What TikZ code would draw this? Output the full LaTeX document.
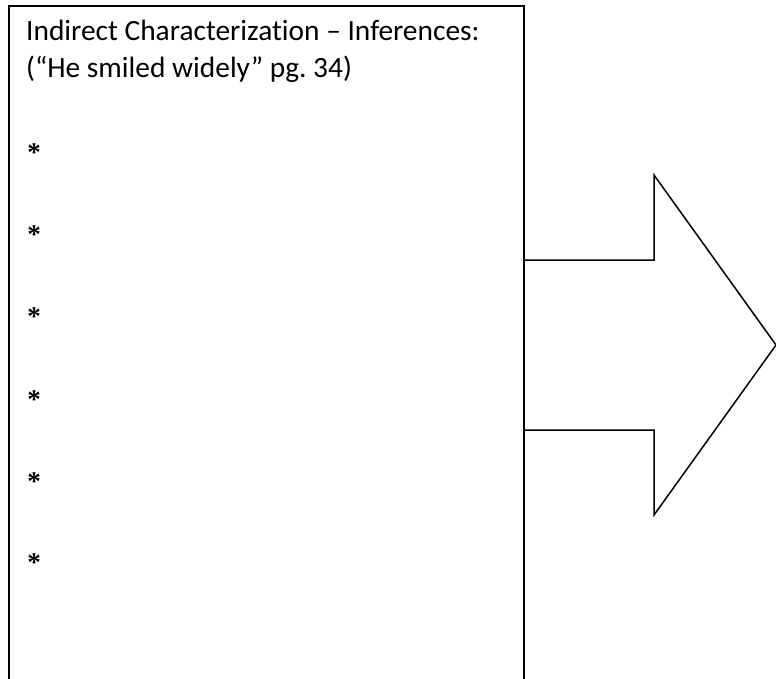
\documentclass[tikz,border=0pt]{standalone}
\usepackage{fontspec}
\setmainfont{Carlito}[Ligatures={TeX,NoCommon}]
\newfontfamily\starfont{Liberation Serif}
\usetikzlibrary{positioning}
\frenchspacing

\begin{document}
\begin{tikzpicture}[x=1pt,y=-1pt,
                    every node/.style={font=\fontsize{29.4}{34}\selectfont},
                    frame/.style={draw,line width=1.5pt,outer sep=0pt,inner sep=0pt},
                    label text/.style={anchor=base west,inner sep=0pt},
                    bullet/.style={anchor=center,inner sep=0pt,font=\starfont\bfseries\fontsize{27}{30}\selectfont}
]
\useasboundingbox (0,0) rectangle (776,679);
\clip (0,0) rectangle (776,679);
%
\node [frame, anchor=north west, minimum width=515pt, minimum height=720pt] at (9,6) (box) {};
\node [label text] at (26,40.5) (title) {Indirect Characterization – Inferences:};
\node [label text] at (26,77.5) (quote) {(“He smiled widely” pg. 34)};
%
\foreach \y [count=\i] in {153,235,317,400,482,563}
  \node [bullet] at (34,\y) (star\i) {*};
%
\draw [line width=1.5pt] (box.north east |- 0,260) -- (654,260) -- (654,175)
  -- (776,345) -- (654,515) -- (654,430) -- (box.north east |- 0,430);
\end{tikzpicture}
\end{document}
